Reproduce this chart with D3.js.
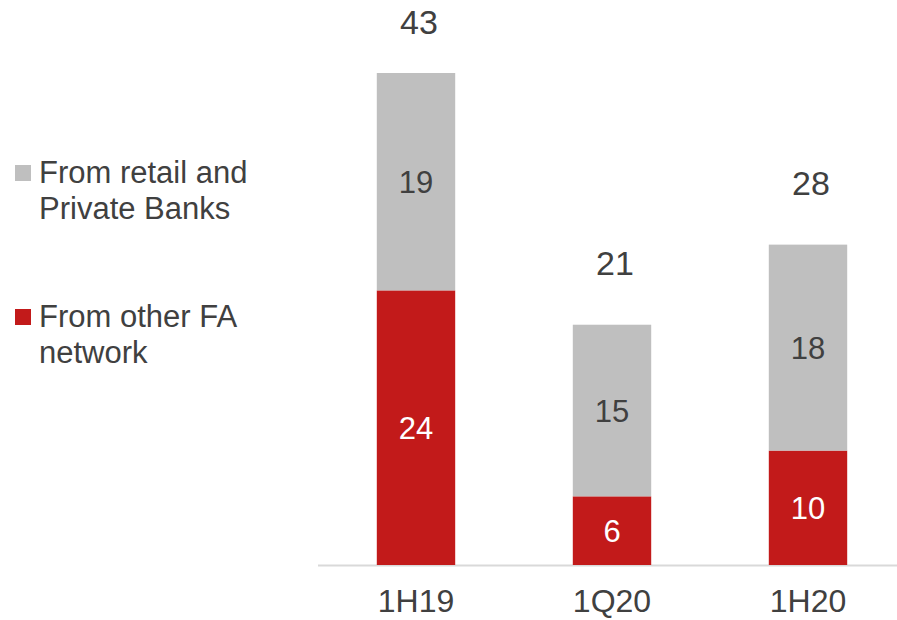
<!DOCTYPE html>
<html>
<head>
<meta charset="utf-8">
<script src="https://cdn.jsdelivr.net/npm/d3@7"></script>
<style>
  body { margin: 0; background: #fff; }
  text { font-family: "Liberation Sans", Arial, sans-serif; }
</style>
</head>
<body>
<svg id="chart"></svg>
<script>
// data
var categories = ['1H19', '1Q20', '1H20'];
var otherFA = [24, 6, 10];
var retailPB = [19, 15, 18];
var totals = [43, 21, 28];
var seriesNames = ['From retail and|Private Banks', 'From other FA|network'];

var width = 897, height = 620;
var svg = d3.select('#chart').attr('width', width).attr('height', height);

var grey = '#bfbfbf', red = '#c21a1a', textCol = '#404040';

// 1. scales
var x = d3.scaleBand().domain(categories).range([318, 906]).paddingInner(0.6).paddingOuter(0.3);
var y = d3.scaleLinear().domain([0, 43]).range([565, 73]);

var rows = categories.map(function(c, i) {
    return { cat: c, red: otherFA[i], grey: retailPB[i], total: totals[i] };
});

// 2. axis line
svg.append('line')
    .attr('x1', 318).attr('x2', width)
    .attr('y1', y(0) + 0.5).attr('y2', y(0) + 0.5)
    .attr('stroke', '#d9d9d9').attr('stroke-width', 2);

// 3. bars
var g = svg.selectAll('.bar').data(rows).enter().append('g').attr('class', 'bar');

g.append('rect')
    .attr('x', d => x(d.cat))
    .attr('width', x.bandwidth())
    .attr('y', d => y(d.red))
    .attr('height', d => y(0) - y(d.red))
    .style('fill', red);

g.append('rect')
    .attr('x', d => x(d.cat))
    .attr('width', x.bandwidth())
    .attr('y', d => y(d.red + d.grey))
    .attr('height', d => y(d.red) - y(d.red + d.grey))
    .style('fill', grey);

// 4. segment labels
g.append('text')
    .attr('x', d => x(d.cat) + x.bandwidth() / 2)
    .attr('y', d => (y(0) + y(d.red)) / 2 + 11)
    .attr('text-anchor', 'middle')
    .style('font-size', '31px').style('fill', '#fff')
    .text(d => d.red);

g.append('text')
    .attr('x', d => x(d.cat) + x.bandwidth() / 2)
    .attr('y', d => (y(d.red) + y(d.red + d.grey)) / 2 + 11)
    .attr('text-anchor', 'middle')
    .style('font-size', '31px').style('fill', textCol)
    .text(d => d.grey);

// totals (kept inside the top edge)
g.append('text')
    .attr('x', d => x(d.cat) + x.bandwidth() / 2 + 3)
    .attr('y', d => Math.max(y(d.total) - 50, 34))
    .attr('text-anchor', 'middle')
    .style('font-size', '34px').style('fill', textCol)
    .text(d => d.total);

// category labels
g.append('text')
    .attr('x', d => x(d.cat) + x.bandwidth() / 2)
    .attr('y', 612)
    .attr('text-anchor', 'middle')
    .style('font-size', '32px').style('fill', textCol)
    .text(d => d.cat);

// 5. legend
var legend = svg.selectAll('.legend')
    .data([{ name: seriesNames[0], col: grey }, { name: seriesNames[1], col: red }])
    .enter().append('g').attr('class', 'legend')
    .attr('transform', (d, i) => 'translate(15,' + (165 + i * 144) + ')');

legend.append('rect').attr('width', 16).attr('height', 16).style('fill', d => d.col);

legend.append('text')
    .attr('x', 24)
    .style('font-size', '31px').style('fill', textCol)
    .selectAll('tspan')
    .data(d => d.name.split('|'))
    .enter().append('tspan')
    .attr('x', 24)
    .attr('y', (d, i) => 18 + i * 36)
    .text(d => d);
</script>
</body>
</html>
